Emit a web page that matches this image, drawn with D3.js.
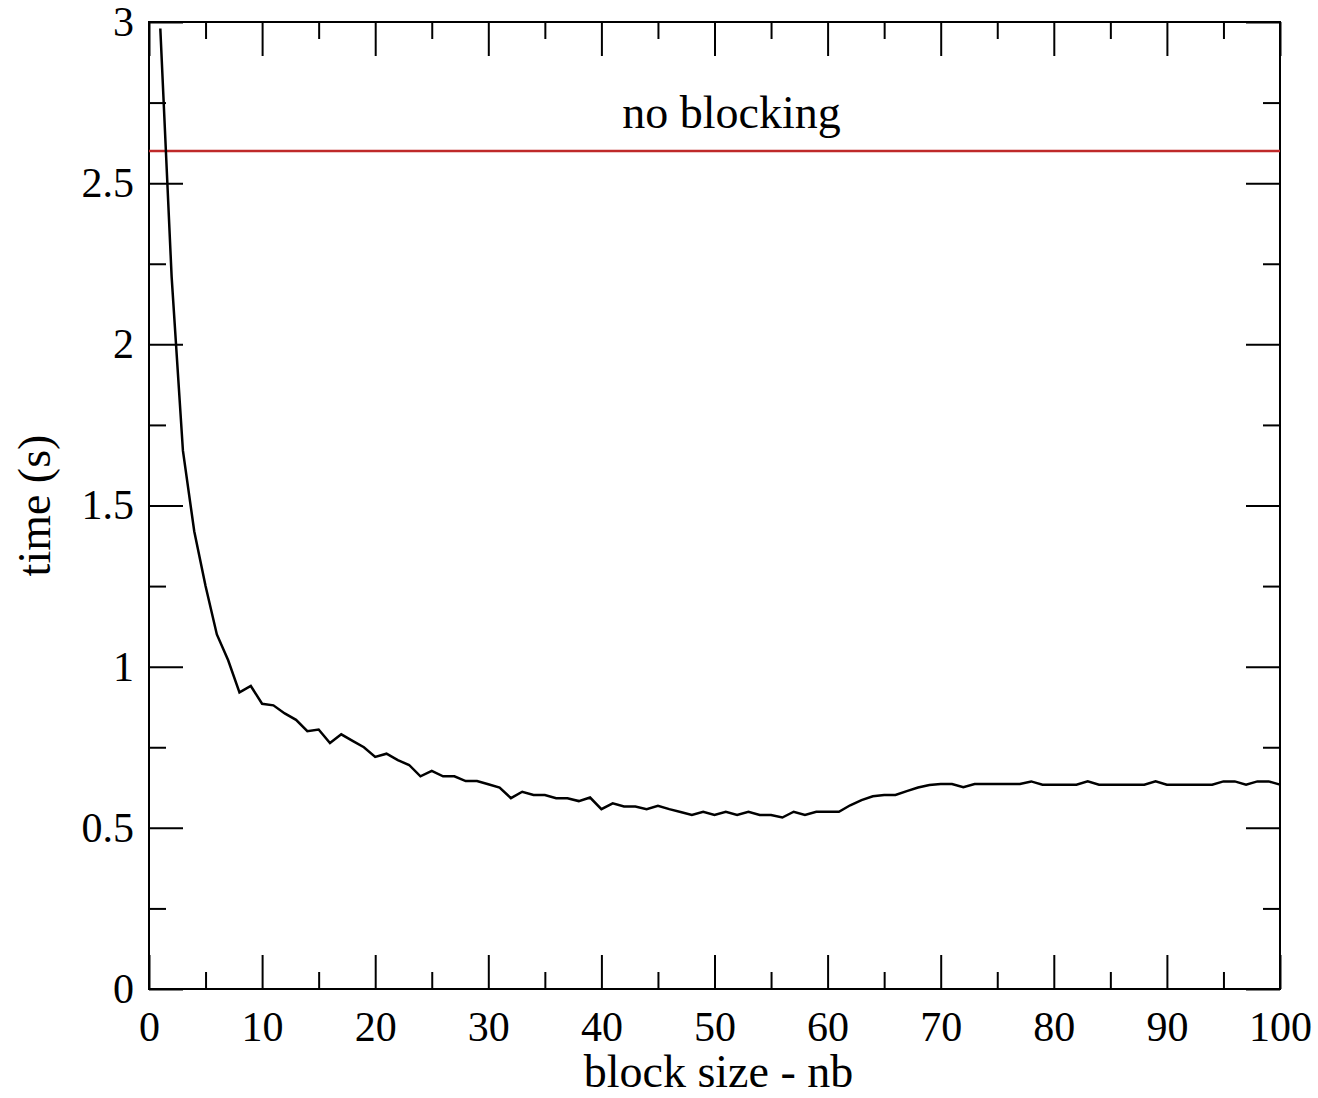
<!DOCTYPE html>
<html>
<head>
<meta charset="utf-8">
<script src="https://cdn.jsdelivr.net/npm/d3@7"></script>
<style>
  body { margin: 0; background: #fff; }
  svg text { font-family: "Liberation Serif", "Times New Roman", serif; fill: #000; }
</style>
</head>
<body>
<div id="chart"></div>
<script>
// block size nb (x) and measured time in seconds (y)
var blockSize = [1,2,3,4,5,6,7,8,9,10,11,12,13,14,15,16,17,18,19,20,
  21,22,23,24,25,26,27,28,29,30,31,32,33,34,35,36,37,38,39,40,
  41,42,43,44,45,46,47,48,49,50,51,52,53,54,55,56,57,58,59,60,
  61,62,63,64,65,66,67,68,69,70,71,72,73,74,75,76,77,78,79,80,
  81,82,83,84,85,86,87,88,89,90,91,92,93,94,95,96,97,98,99,100];
var timeSec = [2.98,2.21,1.67,1.42,1.25,1.10,1.02,0.92,0.94,0.885,
  0.88,0.855,0.835,0.80,0.805,0.763,0.79,0.77,0.75,0.72,
  0.73,0.71,0.695,0.66,0.677,0.66,0.66,0.645,0.645,0.635,
  0.625,0.592,0.612,0.602,0.602,0.592,0.592,0.583,0.594,0.558,
  0.576,0.566,0.566,0.558,0.568,0.558,0.549,0.540,0.550,0.540,
  0.550,0.540,0.550,0.540,0.540,0.532,0.550,0.540,0.550,0.550,
  0.550,0.570,0.586,0.598,0.602,0.602,0.614,0.625,0.633,0.636,
  0.636,0.626,0.636,0.636,0.636,0.636,0.636,0.644,0.634,0.634,
  0.634,0.634,0.644,0.634,0.634,0.634,0.634,0.634,0.644,0.634,
  0.634,0.634,0.634,0.634,0.644,0.644,0.634,0.644,0.644,0.634];

// reference run without blocking
var noBlockingTime = 2.6;
var noBlockingLabel = "no blocking";
var noBlockingLabelPos = [51.5, 2.67];

var xTicks = [0,10,20,30,40,50,60,70,80,90,100];
var xMinor = [5,15,25,35,45,55,65,75,85,95];
var yTicks = [0,0.5,1,1.5,2,2.5,3];
var yMinor = [0.25,0.75,1.25,1.75,2.25,2.75];

var W = 1318, H = 1098;
var margin = {top: 22, right: 38, bottom: 109, left: 149};
var width = W - margin.left - margin.right;
var height = H - margin.top - margin.bottom;

var svg = d3.select("#chart")
  .append("svg")
  .attr("width", W)
  .attr("height", H)
  .append("g")
  .attr("transform", "translate(" + margin.left + "," + margin.top + ")");

var x = d3.scaleLinear().domain([0, 100]).range([0, width]);
var y = d3.scaleLinear().domain([0, 3]).range([height, 0]);

var major = 34, minor = 17, tickFont = 42, labelFont = 46;

function styleAxis(g) {
  g.select(".domain").remove();
  g.selectAll(".tick line").attr("stroke", "#000").attr("stroke-width", 2);
}

// bottom axis with labels
svg.append("g")
  .attr("transform", "translate(0," + height + ")")
  .call(d3.axisBottom(x).tickValues(xTicks).tickSize(-major).tickSizeOuter(0).tickPadding(22))
  .call(styleAxis)
  .selectAll("text").style("font-size", tickFont + "px");
svg.append("g")
  .attr("transform", "translate(0," + height + ")")
  .call(d3.axisBottom(x).tickValues(xMinor).tickSize(-minor).tickFormat(""))
  .call(styleAxis);

// top axis (ticks only)
svg.append("g")
  .call(d3.axisTop(x).tickValues(xTicks).tickSize(-major).tickFormat(""))
  .call(styleAxis);
svg.append("g")
  .call(d3.axisTop(x).tickValues(xMinor).tickSize(-minor).tickFormat(""))
  .call(styleAxis);

// left axis with labels
svg.append("g")
  .call(d3.axisLeft(y).tickValues(yTicks).tickSize(-major).tickSizeOuter(0).tickPadding(15)
    .tickFormat(function (d) { return String(d); }))
  .call(styleAxis)
  .selectAll("text").style("font-size", tickFont + "px");
svg.append("g")
  .call(d3.axisLeft(y).tickValues(yMinor).tickSize(-minor).tickFormat(""))
  .call(styleAxis);

// right axis (ticks only)
svg.append("g")
  .attr("transform", "translate(" + width + ",0)")
  .call(d3.axisRight(y).tickValues(yTicks).tickSize(-major).tickFormat(""))
  .call(styleAxis);
svg.append("g")
  .attr("transform", "translate(" + width + ",0)")
  .call(d3.axisRight(y).tickValues(yMinor).tickSize(-minor).tickFormat(""))
  .call(styleAxis);

// frame
svg.append("rect")
  .attr("x", x(0)).attr("y", y(3))
  .attr("width", x(100) - x(0)).attr("height", y(0) - y(3))
  .attr("fill", "none").attr("stroke", "#000").attr("stroke-width", 2);

// no blocking reference line
svg.append("line")
  .attr("x1", x(0)).attr("x2", x(100))
  .attr("y1", y(noBlockingTime)).attr("y2", y(noBlockingTime))
  .attr("stroke", "#bf2a2a").attr("stroke-width", 2.5);

svg.append("text")
  .attr("x", x(noBlockingLabelPos[0]))
  .attr("y", y(noBlockingLabelPos[1]))
  .attr("text-anchor", "middle")
  .style("font-size", labelFont + "px")
  .text(noBlockingLabel);

// timing curve
var line = d3.line()
  .x(function (d, i) { return x(blockSize[i]); })
  .y(function (d) { return y(d); });

svg.append("path")
  .datum(timeSec)
  .attr("fill", "none")
  .attr("stroke", "#000")
  .attr("stroke-width", 2.5)
  .attr("d", line);

// axis titles
svg.append("text")
  .attr("x", width / 2 + 4)
  .attr("y", height + 98)
  .attr("text-anchor", "middle")
  .style("font-size", labelFont + "px")
  .text("block size - nb");

svg.append("text")
  .attr("transform", "translate(" + (50 - margin.left) + "," + (height / 2) + ") rotate(-90)")
  .attr("text-anchor", "middle")
  .style("font-size", labelFont + "px")
  .text("time (s)");
</script>
</body>
</html>
